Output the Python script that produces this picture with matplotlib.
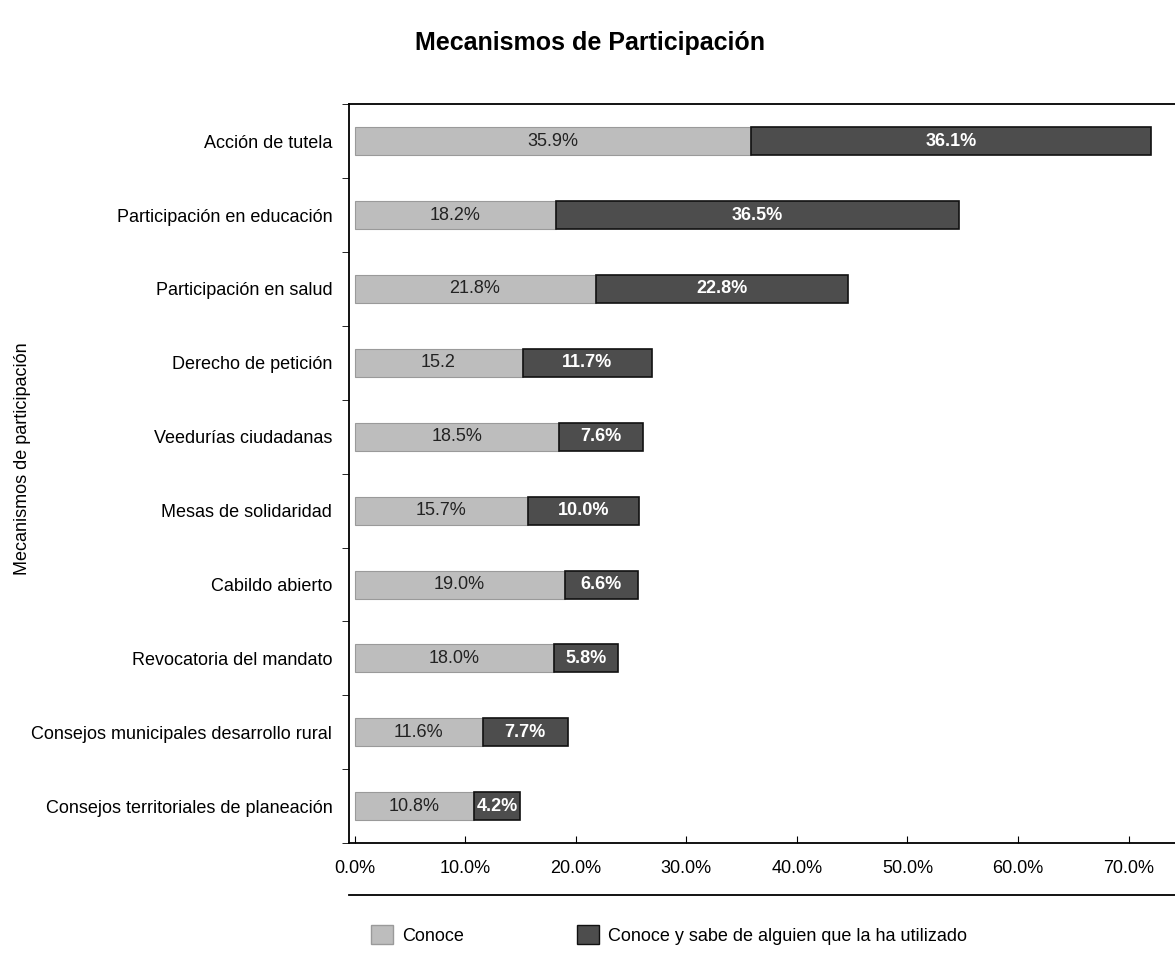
import numpy as np
import matplotlib
matplotlib.use("Agg")
from matplotlib import pyplot as plt
from matplotlib.patches import Patch
from matplotlib.lines import Line2D

plt.rcParams['font.family'] = ['Liberation Sans', 'DejaVu Sans']

categories = ["Acción de tutela",
              "Participación en educación",
              "Participación en salud",
              "Derecho de petición",
              "Veedurías ciudadanas",
              "Mesas de solidaridad",
              "Cabildo abierto",
              "Revocatoria del mandato",
              "Consejos municipales desarrollo rural",
              "Consejos territoriales de planeación"]
conoce = [35.9, 18.2, 21.8, 15.2, 18.5, 15.7, 19.0, 18.0, 11.6, 10.8]
utilizado = [36.1, 36.5, 22.8, 11.7, 7.6, 10.0, 6.6, 5.8, 7.7, 4.2]
conoce_labels = ["35.9%", "18.2%", "21.8%", "15.2", "18.5%", "15.7%",
                 "19.0%", "18.0%", "11.6%", "10.8%"]
utilizado_labels = ["{:.1f}%".format(v) for v in utilizado]
xticks = [0, 10, 20, 30, 40, 50, 60, 70]

light = "#bdbdbd"
dark = "#4d4d4d"

fig = plt.figure(figsize=(11.75, 9.56), dpi=100)
ax = fig.add_axes([0.297, 0.118, 0.703, 0.773])

y = np.arange(len(categories))
h = 0.38
ax.barh(y, conoce, height=h, color=light, edgecolor="#9a9a9a", linewidth=0.8)
ax.barh(y, utilizado, left=conoce, height=h, color=dark, edgecolor="#111111", linewidth=1.2)

for i in range(len(categories)):
    ax.text(conoce[i] / 2, y[i], conoce_labels[i], ha="center", va="center",
            fontsize=13, color="#222222")
    ax.text(conoce[i] + utilizado[i] / 2, y[i], utilizado_labels[i], ha="center",
            va="center", fontsize=13, color="white", fontweight="bold")

ax.set_ylim(len(categories) - 0.5, -0.5)
ax.set_xlim(-0.5, 74.2)

ax.set_yticks(y)
ax.set_yticklabels(categories, fontsize=13)
ax.tick_params(axis="y", which="major", length=0, pad=12)
ax.set_yticks(np.arange(len(categories) + 1) - 0.5, minor=True)
ax.tick_params(axis="y", which="minor", length=5, direction="out")

ax.set_xticks(xticks)
ax.set_xticklabels(["{:.1f}%".format(t) for t in xticks], fontsize=13)
ax.tick_params(axis="x", direction="in", length=5, pad=12)

ax.spines["right"].set_visible(False)
for s in ["left", "top", "bottom"]:
    ax.spines[s].set_linewidth(1.3)

fig.text(0.012, 0.52, "Mecanismos de participación", rotation=90,
         ha="left", va="center", fontsize=13)
fig.text(0.502, 0.955, "Mecanismos de Participación", ha="center", va="center",
         fontsize=18, fontweight="bold")

fig.add_artist(Line2D([0.297, 1.0], [0.064, 0.064], color="black", linewidth=1.3))
handles = [Patch(facecolor=light, edgecolor="#9a9a9a"),
           Patch(facecolor=dark, edgecolor="#111111")]
fig.legend(handles, ["Conoce", "Conoce y sabe de alguien que la ha utilizado"],
           loc="center left", bbox_to_anchor=(0.302, 0.022), ncol=2, frameon=False,
           fontsize=13, handlelength=1.2, handleheight=1.2, handletextpad=0.5,
           columnspacing=6.3)

fig.savefig("out.png", dpi=100)
